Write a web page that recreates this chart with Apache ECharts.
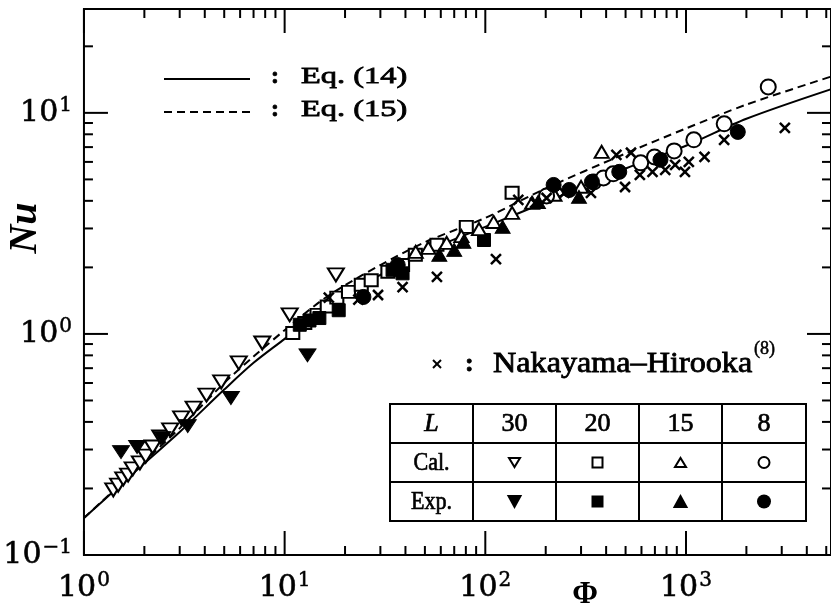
<!DOCTYPE html>
<html><head><meta charset="utf-8">
<script src="https://cdn.jsdelivr.net/npm/echarts@6/dist/echarts.min.js"></script>
<style>html,body{margin:0;padding:0;background:#fff}#c{width:831px;height:609px}</style>
</head><body><div id="c"></div>
<script>
// ---- data (Φ, Nu) ----
const eq14 = [[1,0.147],[1.5,0.205],[2,0.26],[3,0.36],[5,0.56],[7,0.74],[10,0.95],[15,1.27],[20,1.5],[30,1.85],[50,2.35],[100,3.05],[200,3.95],[500,5.6],[1000,7.1],[2000,9.4],[5300,12.8]];
const eq15 = [[1,0.147],[1.5,0.207],[2,0.265],[3,0.375],[5,0.6],[7,0.79],[10,1.04],[15,1.4],[20,1.66],[30,2.05],[50,2.6],[100,3.35],[200,4.55],[500,6.55],[1000,8.5],[2000,10.9],[5300,14.6]];
const cal30 = [[1.40,0.197],[1.48,0.207],[1.57,0.221],[1.66,0.230],[1.75,0.245],[1.90,0.261],[2.03,0.280],[2.20,0.308],[2.40,0.342],[2.69,0.368],[3.05,0.417],[3.52,0.462],[4.08,0.529],[4.83,0.607],[5.91,0.740],[7.74,0.91],[10.6,1.22],[18.0,1.85]];
const exp30 = [[1.53,0.292],[1.84,0.308],[2.46,0.338],[3.29,0.383],[5.40,0.513],[13.0,0.80]];
const cal20 = [[10.98,1.01],[12.6,1.12],[14.5,1.22],[16.3,1.33],[18.2,1.46],[20.8,1.55],[24.1,1.67],[27.0,1.75],[32.7,1.91],[38.7,2.05],[44.8,2.28],[57.4,2.53],[80.4,3.05],[136,4.35]];
const exp20 = [[11.9,1.10],[13.3,1.15],[14.9,1.18],[18.6,1.28],[34.5,1.95],[38.7,1.88],[98.5,2.66]];
const cal15 = [[45,2.35],[52,2.45],[64.2,2.58],[76,2.77],[93,2.98],[110,3.21],[136,3.53],[171,3.92],[221,4.26],[300,4.63],[380,6.66]];
const exp15 = [[36.6,1.98],[59,2.28],[70,2.4],[77.8,2.61],[122,3.05],[183,3.95],[293,4.17]];
const cal8 = [[202,4.21],[347,4.87],[388,5.08],[434,5.30],[595,5.94],[697,6.32],[873,6.73],[1094,7.55],[1550,8.92],[2570,13.1]];
const exp8 = [[24.7,1.47],[36.6,2.05],[219,4.72],[262,4.48],[340,4.88],[465,5.41],[746,6.13],[1812,8.2]];
const nakayama = [[16.6,1.46],[23.3,1.43],[29.2,1.50],[38.7,1.63],[57.4,1.81],[113,2.18],[146,4.04],[177,3.92],[202,4.12],[248,4.35],[336,4.35],[450,6.46],[532,6.60],[497,4.62],[589,5.24],[681,5.41],[788,5.52],[883,5.82],[988,5.41],[1033,6.00],[1237,6.32],[1549,7.55],[3110,8.55]];
// ticks
const xTicks = [1,2,3,4,5,6,7,8,9,10,20,30,40,50,60,70,80,90,100,200,300,400,500,600,700,800,900,1000,2000,3000,4000,5000];
const yTicks = [0.1,0.2,0.3,0.4,0.5,0.6,0.7,0.8,0.9,1,2,3,4,5,6,7,8,9,10,20];
const tableCols = ['L','30','20','15','8'];
const tableRows = ['Cal.','Exp.'];

const isMajor = v => Math.abs(Math.log10(v) - Math.round(Math.log10(v))) < 1e-9;
const chart = echarts.init(document.getElementById('c'), null, {renderer:'canvas'});
const SERIF = 'DejaVu Serif';

function labelFmt(v){
  if (!isMajor(v)) return '';
  const e = Math.round(Math.log10(v));
  return '{a|10}{b|' + (e < 0 ? '\u2212' + (-e) : e) + '}';
}
const rich = {
  a:{fontFamily:SERIF, fontSize:30, color:'#000', lineHeight:34, textBorderColor:'#000', textBorderWidth:0.6},
  b:{fontFamily:SERIF, fontSize:20, color:'#000', verticalAlign:'top', lineHeight:34, padding:[0,0,0,1], textBorderColor:'#000', textBorderWidth:0.5}
};

function tickSeries(vals, isX){
  return {
    type:'custom', silent:true, z:10, clip:false,
    data: vals.map(v => isX ? [v, 1, isMajor(v)?1:0] : [1, v, isMajor(v)?1:0]),
    encode:{x:0, y:1},
    renderItem:(params, api) => {
      const cs = params.coordSys;
      const len = api.value(2) === 1 ? 24 : 9;
      const p = api.coord([api.value(0), api.value(1)]);
      const style = {stroke:'#000', lineWidth:2};
      if (isX) {
        const x = p[0], b = cs.y + cs.height, t = cs.y;
        return {type:'group', children:[
          {type:'line', shape:{x1:x,y1:b,x2:x,y2:b-len}, style},
          {type:'line', shape:{x1:x,y1:t,x2:x,y2:t+len}, style}]};
      }
      const y = p[1], l = cs.x, r = cs.x + cs.width;
      return {type:'group', children:[
        {type:'line', shape:{x1:l,y1:y,x2:l+len,y2:y}, style},
        {type:'line', shape:{x1:r,y1:y,x2:r-len,y2:y}, style}]};
    }
  };
}

const open = {color:'#fff', borderColor:'#000', borderWidth:2, opacity:1};
const filled = {color:'#000', borderColor:'#000', borderWidth:1, opacity:1};
const crossPath = 'path://M0,0L10,10M10,0L0,10';

function scatter(name, data, symbol, size, style, rotate, z){
  return {name, type:'scatter', data, symbol, symbolSize:size, symbolRotate:rotate||0,
    itemStyle:style, z:z||3, silent:true, animation:false, emphasis:{disabled:true}};
}

// ---- table graphics ----
const colX = [390,473,556,639,722,806];
const rowY = [404,443,482,521];
const g = [];
const LS = {stroke:'#000', lineWidth:2};
const TS = (font) => ({font, fill:'#000', stroke:'#000', lineWidth:0.7, align:'center', verticalAlign:'middle'});
g.push({type:'rect', shape:{x:colX[0],y:rowY[0],width:colX[5]-colX[0],height:rowY[3]-rowY[0]}, style:{fill:'#fff'}, z:50});
colX.forEach(x => g.push({type:'line', shape:{x1:x,y1:rowY[0]-1,x2:x,y2:rowY[3]+1}, style:LS, z:51}));
rowY.forEach(y => g.push({type:'line', shape:{x1:colX[0],y1:y,x2:colX[5],y2:y}, style:LS, z:51}));
const cx = i => (colX[i]+colX[i+1])/2, cy = j => (rowY[j]+rowY[j+1])/2;
const TF = '"Liberation Serif"';
tableCols.forEach((t,i) => g.push({type:'text', x:cx(i), y:cy(0)+1, scaleX:1.0, z:52,
  style:Object.assign(TS((i===0?'italic ':'')+'26px '+TF), {text:t})}));
tableRows.forEach((t,j) => g.push({type:'text', x:cx(0), y:cy(j+1)+1, scaleX:0.85, z:52,
  style:Object.assign(TS('26px '+TF), {text:t})}));
function tri(x,y,w,h,down,fill){
  const pts = down ? [[x-w/2,y-h/2],[x+w/2,y-h/2],[x,y+h/2]] : [[x-w/2,y+h/2],[x+w/2,y+h/2],[x,y-h/2]];
  return {type:'polygon', z:52, shape:{points:pts}, style:{fill:fill?'#000':'#fff', stroke:'#000', lineWidth:2}};
}
g.push(tri(cx(1),cy(1),11,9,true,false));
g.push({type:'rect', z:52, shape:{x:cx(2)-5,y:cy(1)-5,width:10,height:10}, style:{fill:'#fff',stroke:'#000',lineWidth:2}});
g.push(tri(cx(3),cy(1),11,9,false,false));
g.push({type:'circle', z:52, shape:{cx:cx(4),cy:cy(1),r:5.5}, style:{fill:'#fff',stroke:'#000',lineWidth:2}});
g.push(tri(cx(1),cy(2),12,11,true,true));
g.push({type:'rect', z:52, shape:{x:cx(2)-6,y:cy(2)-6,width:12,height:12}, style:{fill:'#000'}});
g.push(tri(cx(3),cy(2),12,11,false,true));
g.push({type:'circle', z:52, shape:{cx:cx(4),cy:cy(2),r:7}, style:{fill:'#000'}});

// ---- line legend ----
const LT = (font) => ({font, fill:'#000', stroke:'#000', lineWidth:0.8, align:'left', verticalAlign:'middle'});
g.push({type:'line', shape:{x1:164,y1:79,x2:250,y2:79}, style:{stroke:'#000',lineWidth:2}});
g.push({type:'line', shape:{x1:164,y1:112,x2:250,y2:112}, style:{stroke:'#000',lineWidth:2,lineDash:[8,5]}});
[[77,'Eq. (14)'],[110,'Eq. (15)']].forEach(([y,t]) => {
  g.push({type:'text', x:271, y:y, style:Object.assign(LT('bold 24px '+TF), {text:':'})});
  g.push({type:'text', x:301, y:y, scaleX:1.35, style:Object.assign(LT('24px '+TF), {text:t})});
});
// Nakayama legend
g.push({type:'line', shape:{x1:433,y1:360,x2:441,y2:368}, style:{stroke:'#000',lineWidth:2}});
g.push({type:'line', shape:{x1:441,y1:360,x2:433,y2:368}, style:{stroke:'#000',lineWidth:2}});
g.push({type:'text', x:465, y:364, style:Object.assign(LT('bold 26px '+TF), {text:':'})});
g.push({type:'text', x:493, y:364, scaleX:1.11, style:Object.assign(LT('29px '+TF), {text:'Nakayama\u2013Hirooka'})});
g.push({type:'text', x:754, y:349, style:Object.assign(LT('18px '+TF), {text:'(8)', lineWidth:0.5})});
// axis titles
g.push({type:'text', x:26, y:228, rotation:Math.PI/2, style:{text:'Nu', font:'italic bold 40px '+TF, fill:'#000', align:'center', verticalAlign:'middle'}});
g.push({type:'text', x:585, y:595, style:{text:'\u03A6', font:'bold 31px '+TF, fill:'#000', align:'center', verticalAlign:'middle'}});

chart.setOption({
  animation:false,
  backgroundColor:'#fff',
  grid:{left:80, top:9, width:762, height:546, show:true, borderColor:'#000', borderWidth:2, backgroundColor:'transparent'},
  xAxis:{type:'log', logBase:10, min:1, max:5280,
    axisLine:{show:false}, axisTick:{show:false}, splitLine:{show:false}, minorTick:{show:false},
    axisLabel:{formatter:labelFmt, rich, margin:16, showMinLabel:true, showMaxLabel:false, hideOverlap:false}},
  yAxis:{type:'log', logBase:10, min:0.1, max:29.5,
    axisLine:{show:false}, axisTick:{show:false}, splitLine:{show:false}, minorTick:{show:false},
    axisLabel:{formatter:labelFmt, rich, margin:12, showMinLabel:true, showMaxLabel:false, hideOverlap:false}},
  graphic:{elements:g},
  series:[
    tickSeries(xTicks, true),
    tickSeries(yTicks, false),
    {type:'line', data:eq14, smooth:0.3, symbol:'none', lineStyle:{color:'#000', width:2}, z:2, silent:true},
    {type:'line', data:eq15, smooth:0.3, symbol:'none', lineStyle:{color:'#000', width:2, type:[8,5]}, z:2, silent:true},
    scatter('cal30', cal30, 'triangle', [16,13], open, 180),
    scatter('exp30', exp30, 'triangle', [17,13], filled, 180),
    scatter('cal20', cal20, 'rect', [13,12], open),
    scatter('exp20', exp20, 'rect', [13,13], filled),
    scatter('cal15', cal15, 'triangle', [14,12], open),
    scatter('exp15', exp15, 'triangle', [15,13], filled),
    scatter('cal8', cal8, 'circle', 15, open),
    scatter('exp8', exp8, 'circle', 15, filled),
    scatter('nakayama', nakayama, crossPath, 10, {color:'transparent', borderColor:'#000', borderWidth:2.5, opacity:1}, 0, 4)
  ]
});
</script></body></html>
